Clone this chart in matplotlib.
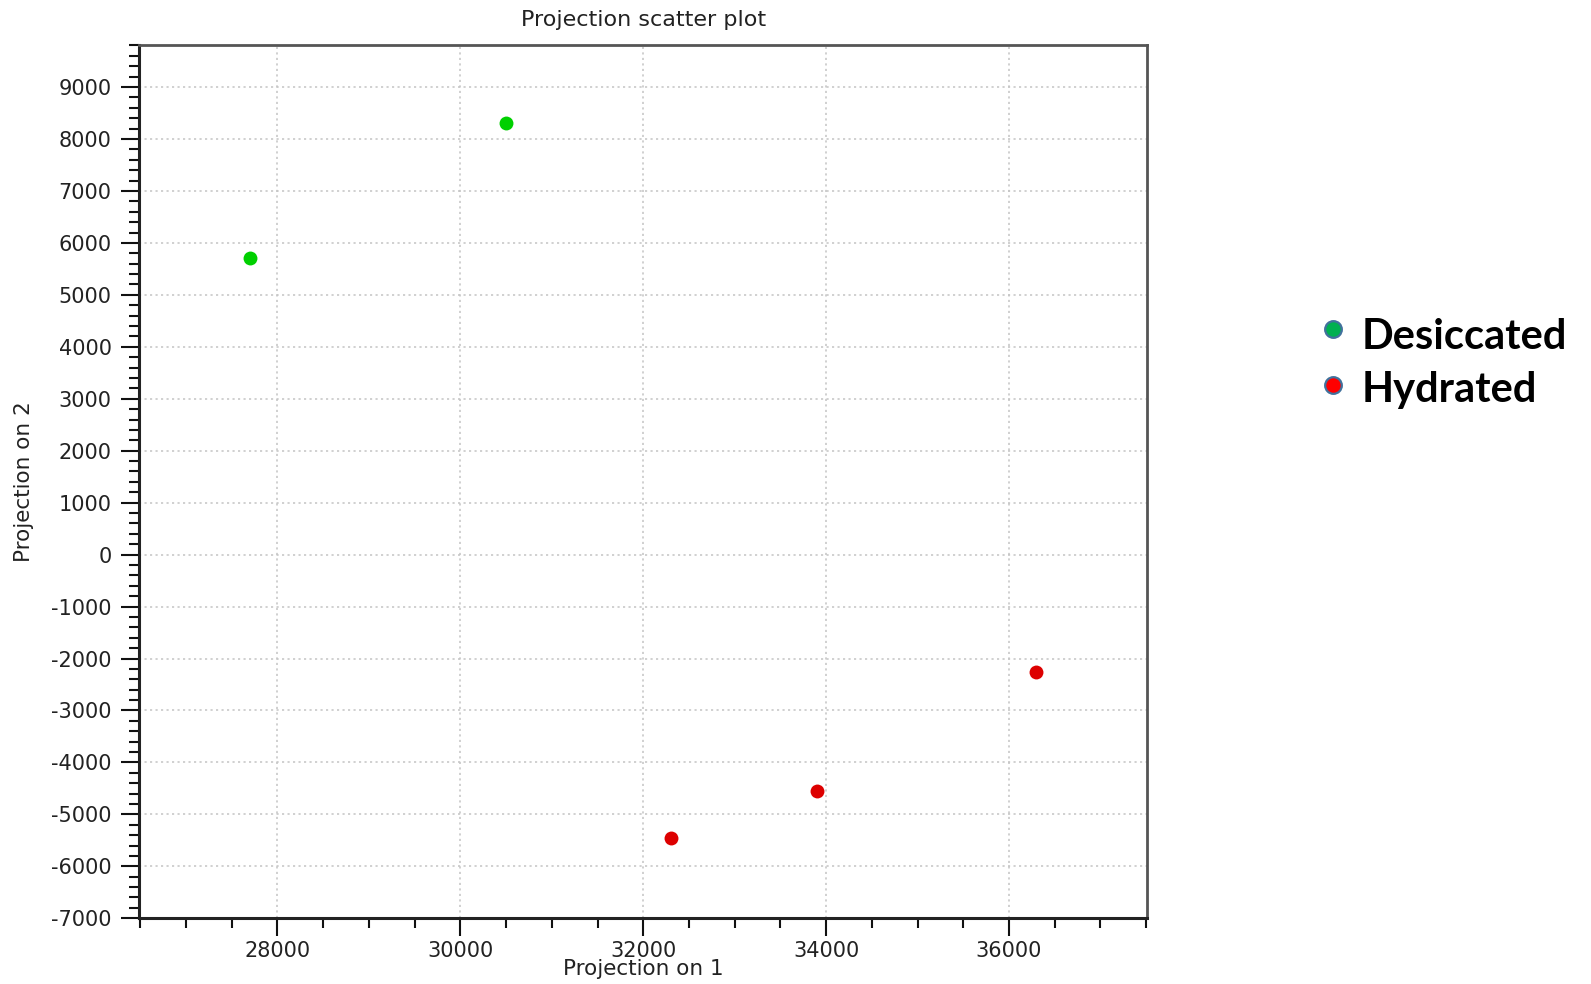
import matplotlib
matplotlib.use("Agg")
import matplotlib.pyplot as plt
from matplotlib.ticker import MultipleLocator
from matplotlib.lines import Line2D

plt.rcParams["axes.unicode_minus"] = False

# Data
desiccated_x = [27700, 30500]
desiccated_y = [5700, 8300]
hydrated_x = [32300, 33900, 36300]
hydrated_y = [-5450, -4550, -2250]
legend_labels = ["Desiccated", "Hydrated"]

title = "Projection scatter plot"
xlabel = "Projection on 1"
ylabel = "Projection on 2"

fig = plt.figure(figsize=(15.91, 9.84), dpi=100)
ax = fig.add_axes([0.0876, 0.0668, 0.6334, 0.8875])

ax.scatter(desiccated_x, desiccated_y, s=100, color="#00d000", zorder=3, linewidths=0)
ax.scatter(hydrated_x, hydrated_y, s=100, color="#dd0000", zorder=3, linewidths=0)

ax.set_xlim(26490, 37510)
ax.set_ylim(-7000, 9810)
ax.xaxis.set_major_locator(MultipleLocator(2000))
ax.xaxis.set_minor_locator(MultipleLocator(500))
ax.yaxis.set_major_locator(MultipleLocator(1000))
ax.yaxis.set_minor_locator(MultipleLocator(200))

ax.grid(True, which="major", color="#c4c4c4", linestyle=(0, (1.4, 2.2)), linewidth=1.1)
ax.set_axisbelow(True)

ax.tick_params(which="major", direction="out", length=13, width=1.5, color="#111111",
               labelsize=15, labelcolor="#222222")
ax.tick_params(axis="y", which="major", pad=7)
ax.tick_params(axis="x", which="major", pad=3.5)
ax.tick_params(which="minor", direction="out", length=7, width=1.5, color="#111111")

for side in ["left", "bottom"]:
    ax.spines[side].set_color("#222222")
    ax.spines[side].set_linewidth(2.2)
for side in ["top", "right"]:
    ax.spines[side].set_color("#555555")
    ax.spines[side].set_linewidth(2.0)

ax.set_title(title, fontsize=16, color="#222222", pad=14)
ax.set_xlabel(xlabel, fontsize=15.5, color="#222222")
ax.xaxis.set_label_coords(0.5, -0.058)
ax.xaxis.label.set_va("center")
ax.set_ylabel(ylabel, fontsize=15.5, color="#222222")
ax.yaxis.set_label_coords(-0.114, 0.5)
ax.yaxis.label.set_va("center")

# Legend (manual, outside to the right)
leg_colors = ["#00b050", "#ff0000"]
marker_y = [0.6653, 0.6087]
text_y = [0.6450, 0.5918]
for lab, col, my, ty in zip(legend_labels, leg_colors, marker_y, text_y):
    fig.add_artist(Line2D([0.8380], [my], transform=fig.transFigure, marker="o",
                          markersize=12, markerfacecolor=col, markeredgecolor="#41719c",
                          markeredgewidth=1.6, linestyle="none"))
    fig.text(0.8559, ty, lab, fontsize=30, fontweight="bold", family="Lato",
             color="black", ha="left", va="baseline")

fig.savefig("out.png", dpi=100)
